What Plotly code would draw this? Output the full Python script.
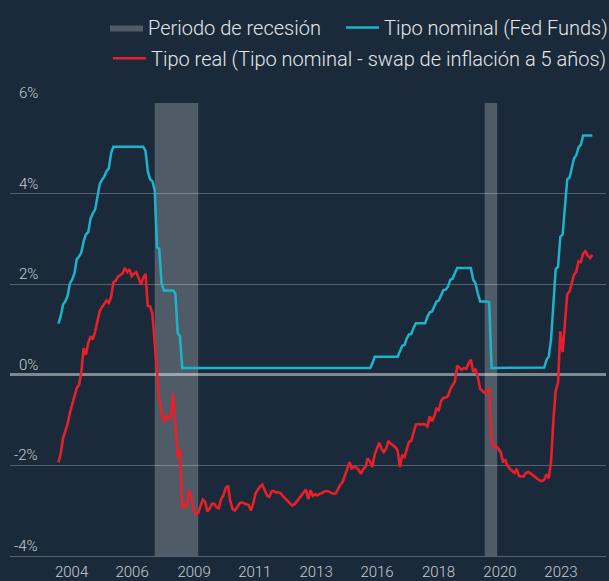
import pandas as pd
import plotly.graph_objects as go

# ---------------- data ----------------
START_MONTH = "2004-07-01"
END_MONTH = "2023-12-01"

# Tipo nominal (Fed Funds), monthly, Jul-2004 .. Dec-2023
fed_funds = [
    # 2004 (Jul-Dec)
    1.13, 1.30, 1.55, 1.62, 1.75, 2.02,
    # 2005
    2.11, 2.25, 2.55, 2.61, 2.70, 2.95, 3.10, 3.15, 3.45, 3.57, 3.65, 3.95,
    # 2006
    4.22, 4.31, 4.38, 4.50, 4.56, 4.90, 5.04, 5.04, 5.04, 5.04, 5.04, 5.04,
    # 2007
    5.04, 5.04, 5.04, 5.04, 5.04, 5.04, 5.04, 5.04, 4.95, 4.50, 4.32, 4.28,
    # 2008
    4.08, 2.82, 2.78, 2.02, 1.86, 1.86, 1.86, 1.86, 1.86, 1.80, 0.92, 0.85,
    # 2009
    0.15, 0.15, 0.15, 0.15, 0.15, 0.15, 0.15, 0.15, 0.15, 0.15, 0.15, 0.15,
    # 2010
    0.15, 0.15, 0.15, 0.15, 0.15, 0.15, 0.15, 0.15, 0.15, 0.15, 0.15, 0.15,
    # 2011
    0.15, 0.15, 0.15, 0.15, 0.15, 0.15, 0.15, 0.15, 0.15, 0.15, 0.15, 0.15,
    # 2012
    0.15, 0.15, 0.15, 0.15, 0.15, 0.15, 0.15, 0.15, 0.15, 0.15, 0.15, 0.15,
    # 2013
    0.15, 0.15, 0.15, 0.15, 0.15, 0.15, 0.15, 0.15, 0.15, 0.15, 0.15, 0.15,
    # 2014
    0.15, 0.15, 0.15, 0.15, 0.15, 0.15, 0.15, 0.15, 0.15, 0.15, 0.15, 0.15,
    # 2015
    0.15, 0.15, 0.15, 0.15, 0.15, 0.15, 0.15, 0.15, 0.15, 0.15, 0.15, 0.25,
    # 2016
    0.40, 0.40, 0.40, 0.40, 0.40, 0.40, 0.40, 0.40, 0.40, 0.40, 0.40, 0.52,
    # 2017
    0.64, 0.66, 0.80, 0.89, 0.90, 1.04, 1.14, 1.14, 1.14, 1.14, 1.14, 1.28,
    # 2018
    1.38, 1.40, 1.50, 1.62, 1.64, 1.78, 1.87, 1.88, 1.95, 2.10, 2.12, 2.25,
    # 2019
    2.36, 2.36, 2.36, 2.36, 2.36, 2.36, 2.36, 2.10, 2.02, 1.80, 1.62, 1.62,
    # 2020
    1.62, 1.62, 1.60, 0.15, 0.15, 0.15, 0.15, 0.15, 0.15, 0.15, 0.15, 0.15,
    # 2021
    0.15, 0.15, 0.15, 0.15, 0.15, 0.15, 0.15, 0.15, 0.15, 0.15, 0.15, 0.15,
    # 2022
    0.15, 0.15, 0.16, 0.33, 0.40, 0.80, 1.60, 2.34, 2.38, 3.05, 3.10, 3.80,
    # 2023
    4.32, 4.36, 4.60, 4.78, 4.85, 5.03, 5.08, 5.29, 5.29, 5.29, 5.29, 5.29,
]

# Tipo real (Tipo nominal - swap de inflacion a 5 anos), monthly
real_rate = [
    # 2004 (Jul-Dec)
    -1.94, -1.74, -1.40, -1.25, -1.08, -0.84,
    # 2005
    -0.63, -0.47, -0.30, -0.22, 0.05, 0.59, 0.44, 0.70, 0.85, 0.78, 0.95, 1.18,
    # 2006
    1.41, 1.50, 1.58, 1.64, 1.59, 1.72, 2.04, 2.08, 2.17, 2.21, 2.24, 2.36,
    # 2007
    2.27, 2.33, 2.18, 2.23, 2.27, 2.14, 1.99, 2.14, 2.23, 1.52, 1.51, 1.35,
    # 2008
    0.65, -0.10, -0.55, -0.83, -1.05, -0.90, -0.98, -0.90, -0.41, -1.05, -1.84, -1.65,
    # 2009
    -2.95, -2.88, -2.91, -2.55, -2.70, -2.98, -3.08, -3.05, -2.90, -2.76, -2.81, -3.02,
    # 2010
    -2.95, -2.85, -2.85, -2.93, -2.95, -2.75, -2.67, -2.50, -2.45, -2.80, -2.97, -3.00,
    # 2011
    -2.93, -2.84, -2.82, -2.84, -2.85, -2.88, -3.00, -2.85, -2.62, -2.54, -2.47, -2.43,
    # 2012
    -2.55, -2.67, -2.70, -2.58, -2.57, -2.60, -2.60, -2.62, -2.69, -2.74, -2.79, -2.84,
    # 2013
    -2.89, -2.86, -2.80, -2.75, -2.68, -2.60, -2.54, -2.75, -2.55, -2.68, -2.64, -2.67,
    # 2014
    -2.63, -2.62, -2.58, -2.57, -2.58, -2.61, -2.63, -2.62, -2.52, -2.43, -2.37, -2.22,
    # 2015
    -2.04, -1.93, -2.07, -2.04, -2.05, -2.10, -2.19, -2.08, -2.04, -1.85, -1.92, -2.04,
    # 2016
    -1.76, -1.61, -1.50, -1.64, -1.71, -1.63, -1.46, -1.52, -1.56, -1.60, -1.68, -2.04,
    # 2017
    -1.77, -1.82, -1.65, -1.48, -1.46, -1.30, -1.10, -1.09, -1.10, -1.09, -1.10, -1.14,
    # 2018
    -0.92, -1.03, -0.92, -0.75, -0.78, -0.58, -0.51, -0.51, -0.47, -0.32, -0.22, -0.15,
    # 2019
    0.20, 0.15, 0.11, 0.15, 0.13, 0.25, 0.33, 0.06, 0.13, -0.05, -0.31, -0.36,
    # 2020
    -0.40, -0.36, -0.30, -1.50, -1.61, -1.58, -1.63, -1.72, -1.92, -1.89, -2.02, -2.08,
    # 2021
    -2.13, -2.17, -2.08, -2.24, -2.25, -2.25, -2.17, -2.15, -2.18, -2.22, -2.28, -2.30,
    # 2022
    -2.34, -2.35, -2.32, -2.20, -2.29, -1.90, -1.00, -0.35, -0.18, 0.96, 0.50, 1.15,
    # 2023
    1.78, 1.84, 2.00, 2.21, 2.28, 2.51, 2.49, 2.68, 2.73, 2.63, 2.58, 2.65,
]

# Periodos de recesion (as drawn in the chart)
recession_start = ["2008-01-01", "2020-01-01"]
recession_end = ["2009-08-01", "2020-06-15"]

# Tick labels
x_tick_text = ["2004", "2006", "2009", "2011", "2013", "2016", "2018", "2020", "2023"]
y_tick_values = [-4, -2, 0, 2, 4, 6]
y_tick_text = ["-4%", "-2%", "0%", "2%", "4%", "6%"]

# ---------------- layout constants ----------------
X_TICK_POSITIONS = ["2004-12-23", "2007-03-07", "2009-06-07", "2011-08-22",
                    "2013-11-13", "2016-02-01", "2018-04-28", "2020-07-22",
                    "2022-10-10"]
X_RANGE = ["2002-09-27", "2024-05-30"]
Y_RANGE = [-4.006, 6.006]

BG = "#1a2a3a"
GRID = "#56626f"
ZERO = "#7e8893"
BAND = "rgba(255,255,255,0.235)"
BLUE = "#1db4cb"
RED = "#e8202a"
TICK_COLOR = "#c9cdd2"
LEGEND_COLOR = "#e4e7ea"
FONT = "Roboto"
WEIGHT = 300

months = pd.date_range(START_MONTH, END_MONTH, freq="MS")
assert len(months) == len(fed_funds) == len(real_rate)

fig = go.Figure()

band_x, band_y = [], []
for s, e in zip(recession_start, recession_end):
    band_x += [s, s, e, e, s, None]
    band_y += [Y_RANGE[0], Y_RANGE[1], Y_RANGE[1], Y_RANGE[0], Y_RANGE[0], None]

fig.add_trace(go.Scatter(
    x=band_x, y=band_y, mode="lines", fill="toself", fillcolor=BAND,
    line=dict(width=0, color=BAND), name="Periodo de recesión",
    legend="legend", legendwidth=188, hoverinfo="skip",
))
fig.add_trace(go.Scatter(
    x=months, y=fed_funds, mode="lines",
    line=dict(color=BLUE, width=2.5),
    name="Tipo nominal (Fed Funds)", legend="legend",
))
fig.add_trace(go.Scatter(
    x=months, y=real_rate, mode="lines",
    line=dict(color=RED, width=2.6),
    name="Tipo real (Tipo nominal - swap de inflación a 5 años)", legend="legend2",
))

for v, t in zip(y_tick_values, y_tick_text):
    fig.add_annotation(
        x=0.0503, xref="paper", xanchor="right",
        y=v, yref="y", yanchor="middle", yshift=10,
        text=t, showarrow=False,
        font=dict(family=FONT, size=15, color=TICK_COLOR, weight=WEIGHT),
    )

legend_common = dict(
    orientation="h", xanchor="left", yanchor="middle",
    bgcolor="rgba(0,0,0,0)", borderwidth=0, itemwidth=33,
    font=dict(family=FONT, size=20, color=LEGEND_COLOR, weight=WEIGHT),
)

fig.update_layout(
    width=609, height=581,
    margin=dict(l=10, r=3, t=103, b=25, autoexpand=False),
    paper_bgcolor=BG, plot_bgcolor=BG,
    font=dict(family=FONT, size=15, color=TICK_COLOR, weight=WEIGHT),
    showlegend=True,
    legend=dict(x=0.1594, y=1.1667, **legend_common),
    legend2=dict(x=0.1644, y=1.0987, **legend_common),
    xaxis=dict(
        type="date", range=X_RANGE,
        tickmode="array", tickvals=X_TICK_POSITIONS, ticktext=x_tick_text,
        showgrid=False, zeroline=False,
        showline=True, linecolor=GRID, linewidth=1,
        ticks="", ticklabelstandoff=2,
        tickfont=dict(family=FONT, size=15, color=TICK_COLOR, weight=WEIGHT),
    ),
    yaxis=dict(
        range=Y_RANGE, tickmode="array", tickvals=y_tick_values,
        showticklabels=False, ticks="",
        showgrid=True, gridcolor=GRID, gridwidth=1,
        zeroline=True, zerolinecolor=ZERO, zerolinewidth=2.5,
    ),
    hovermode=False,
)

fig.write_html(
    "out.html",
    config={"displayModeBar": False},
    post_script="document.body.style.margin='0';",
)
